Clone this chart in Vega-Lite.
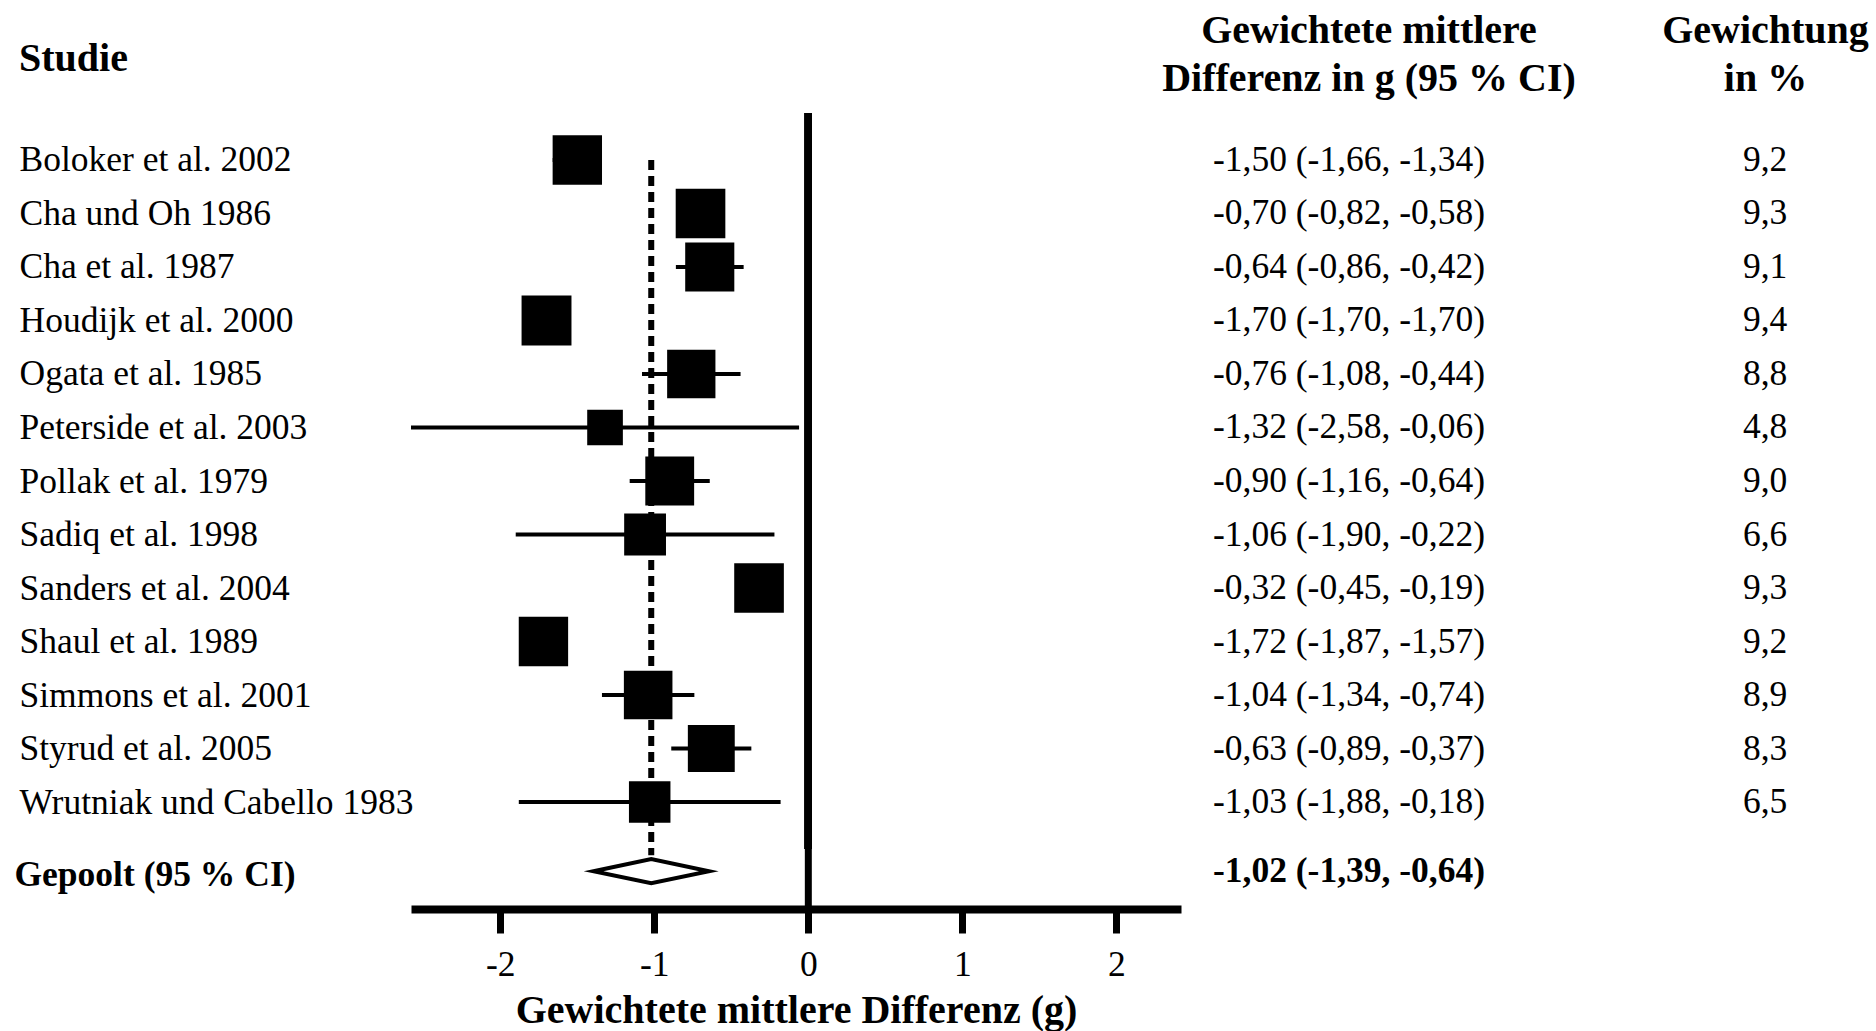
{
  "$schema": "https://vega.github.io/schema/vega-lite/v6.json",
  "background": "white",
  "padding": {"left": 14, "top": 11, "right": 0, "bottom": 0},
  "config": {
    "view": {"stroke": null},
    "locale": {"number": {"decimal": ",", "thousands": ".", "grouping": [3], "currency": ["", " €"], "minus": "-"}},
    "font": "Liberation Serif",
    "title": {"font": "Liberation Serif", "fontSize": 40, "fontWeight": "bold", "color": "black", "lineHeight": 48, "baseline": "bottom"},
    "text": {"font": "Liberation Serif", "fontSize": 35.5, "color": "black"}
  },
  "datasets": {
    "studies": [
      {"study": "Boloker et al. 2002", "est": -1.50, "lo": -1.66, "hi": -1.34, "weight": 9.2},
      {"study": "Cha und Oh 1986", "est": -0.70, "lo": -0.82, "hi": -0.58, "weight": 9.3},
      {"study": "Cha et al. 1987", "est": -0.64, "lo": -0.86, "hi": -0.42, "weight": 9.1},
      {"study": "Houdijk et al. 2000", "est": -1.70, "lo": -1.70, "hi": -1.70, "weight": 9.4},
      {"study": "Ogata et al. 1985", "est": -0.76, "lo": -1.08, "hi": -0.44, "weight": 8.8},
      {"study": "Peterside et al. 2003", "est": -1.32, "lo": -2.58, "hi": -0.06, "weight": 4.8},
      {"study": "Pollak et al. 1979", "est": -0.90, "lo": -1.16, "hi": -0.64, "weight": 9.0},
      {"study": "Sadiq et al. 1998", "est": -1.06, "lo": -1.90, "hi": -0.22, "weight": 6.6},
      {"study": "Sanders et al. 2004", "est": -0.32, "lo": -0.45, "hi": -0.19, "weight": 9.3},
      {"study": "Shaul et al. 1989", "est": -1.72, "lo": -1.87, "hi": -1.57, "weight": 9.2},
      {"study": "Simmons et al. 2001", "est": -1.04, "lo": -1.34, "hi": -0.74, "weight": 8.9},
      {"study": "Styrud  et al. 2005", "est": -0.63, "lo": -0.89, "hi": -0.37, "weight": 8.3},
      {"study": "Wrutniak und Cabello 1983", "est": -1.03, "lo": -1.88, "hi": -0.18, "weight": 6.5}
    ],
    "pooled": [
      {"study": "Gepoolt (95 % CI)", "est": -1.02, "lo": -1.39, "hi": -0.64}
    ]
  },
  "columns": 3,
  "spacing": {"row": 0, "column": 0},
  "bounds": "flush",
  "resolve": {"scale": {"x": "independent", "y": "independent", "size": "independent"}},
  "concat": [
    {
      "width": 770,
      "height": 736,
      "title": {"text": "Studie", "anchor": "start", "frame": "bounds", "offset": 31},
      "data": {"name": "studies"},
      "layer": [
        {
          "mark": {"type": "rule", "strokeWidth": 7, "color": "black"},
          "encoding": {
            "x": {"datum": 0, "type": "quantitative", "scale": {"domain": [-2.58, 2.42], "nice": false, "zero": false}, "axis": null}
          }
        },
        {
          "data": {"name": "pooled"},
          "mark": {"type": "rule", "strokeWidth": 6, "color": "black", "strokeDash": [10, 6]},
          "encoding": {
            "x": {"field": "est", "type": "quantitative", "scale": {"domain": [-2.58, 2.42], "nice": false, "zero": false}, "axis": null},
            "y": {"datum": "Boloker et al. 2002", "type": "nominal"},
            "y2": {"value": "height"}
          }
        },
        {
          "mark": {"type": "rule", "strokeWidth": 4, "color": "black"},
          "encoding": {
            "x": {"field": "lo", "type": "quantitative", "scale": {"domain": [-2.58, 2.42], "nice": false, "zero": false}, "axis": null},
            "x2": {"field": "hi"},
            "y": {"field": "study", "type": "nominal"}
          }
        },
        {
          "mark": {"type": "point", "shape": "square", "filled": true, "color": "black", "opacity": 1, "strokeWidth": 0},
          "encoding": {
            "x": {"field": "est", "type": "quantitative", "scale": {"domain": [-2.58, 2.42], "nice": false, "zero": false}, "axis": null},
            "y": {
              "field": "study", "type": "nominal",
              "scale": {"type": "point", "padding": 0.8785, "domain": ["Boloker et al. 2002", "Cha und Oh 1986", "Cha et al. 1987", "Houdijk et al. 2000", "Ogata et al. 1985", "Peterside et al. 2003", "Pollak et al. 1979", "Sadiq et al. 1998", "Sanders et al. 2004", "Shaul et al. 1989", "Simmons et al. 2001", "Styrud  et al. 2005", "Wrutniak und Cabello 1983"]},
              "axis": {"title": null, "domain": false, "ticks": false, "tickSize": 0, "grid": false, "labelAlign": "left", "labelBaseline": "middle", "labelPadding": 392, "labelFont": "Liberation Serif", "labelFontSize": 35.5, "labelColor": "black", "labelLimit": 0, "labelOverlap": false}
            },
            "size": {"field": "weight", "type": "quantitative", "scale": {"type": "linear", "domain": [0, 10], "range": [0, 2650]}, "legend": null}
          }
        }
      ]
    },
    {
      "width": 336,
      "height": 736,
      "title": {"text": ["Gewichtete mittlere", "Differenz in g (95 % CI)"], "anchor": "middle", "frame": "group", "offset": 14, "dx": 20},
      "data": {"name": "studies"},
      "transform": [
        {"calculate": "format(datum.est, '.2f') + ' (' + format(datum.lo, '.2f') + ', ' + format(datum.hi, '.2f') + ')'", "as": "ci_text"}
      ],
      "mark": {"type": "text", "align": "center", "baseline": "middle"},
      "encoding": {
        "y": {
          "field": "study", "type": "nominal",
          "scale": {"type": "point", "padding": 0.8785, "domain": ["Boloker et al. 2002", "Cha und Oh 1986", "Cha et al. 1987", "Houdijk et al. 2000", "Ogata et al. 1985", "Peterside et al. 2003", "Pollak et al. 1979", "Sadiq et al. 1998", "Sanders et al. 2004", "Shaul et al. 1989", "Simmons et al. 2001", "Styrud  et al. 2005", "Wrutniak und Cabello 1983"]},
          "axis": null
        },
        "text": {"field": "ci_text", "type": "nominal"}
      }
    },
    {
      "width": 359,
      "height": 736,
      "title": {"text": ["Gewichtung", "in %"], "anchor": "middle", "frame": "group", "offset": 14, "dx": 69},
      "data": {"name": "studies"},
      "mark": {"type": "text", "align": "center", "baseline": "middle"},
      "encoding": {
        "x": {"datum": 0.691, "type": "quantitative", "scale": {"domain": [0, 1], "nice": false, "zero": false}, "axis": null},
        "y": {
          "field": "study", "type": "nominal",
          "scale": {"type": "point", "padding": 0.8785, "domain": ["Boloker et al. 2002", "Cha und Oh 1986", "Cha et al. 1987", "Houdijk et al. 2000", "Ogata et al. 1985", "Peterside et al. 2003", "Pollak et al. 1979", "Sadiq et al. 1998", "Sanders et al. 2004", "Shaul et al. 1989", "Simmons et al. 2001", "Styrud  et al. 2005", "Wrutniak und Cabello 1983"]},
          "axis": null
        },
        "text": {"field": "weight", "type": "quantitative", "format": ".1f"}
      }
    },
    {
      "width": 770,
      "height": 60,
      "data": {"name": "pooled"},
      "transform": [
        {"calculate": "datum.hi - datum.lo", "as": "ci_width"}
      ],
      "layer": [
        {
          "mark": {"type": "rule", "strokeWidth": 7, "color": "black"},
          "encoding": {
            "x": {
              "datum": 0, "type": "quantitative",
              "scale": {"domain": [-2.58, 2.42], "nice": false, "zero": false},
              "axis": {"values": [-2, -1, 0, 1, 2], "labelExpr": "datum.value + ''", "domain": true, "domainColor": "black", "domainWidth": 8, "ticks": true, "tickColor": "black", "tickWidth": 7, "tickSize": 24, "grid": false, "labelFont": "Liberation Serif", "labelFontSize": 35.5, "labelColor": "black", "labelPadding": 14, "labelFlush": false, "title": "Gewichtete mittlere Differenz (g)", "titleFont": "Liberation Serif", "titleFontSize": 40, "titleFontWeight": "bold", "titleColor": "black", "titlePadding": 8}
            }
          }
        },
        {
          "mark": {"type": "rule", "strokeWidth": 6, "color": "black", "strokeDash": [10, 6]},
          "encoding": {
            "x": {"field": "est", "type": "quantitative"},
            "y": {"field": "study", "type": "nominal"},
            "y2": {"value": 0}
          }
        },
        {
          "mark": {"type": "point", "shape": "M-1,0L0,-0.21L1,0L0,0.21Z", "filled": true, "fill": "white", "stroke": "black", "strokeWidth": 4, "strokeJoin": "miter", "strokeMiterLimit": 10, "opacity": 1},
          "encoding": {
            "x": {"field": "est", "type": "quantitative"},
            "y": {
              "field": "study", "type": "nominal",
              "scale": {"type": "point", "padding": 0, "align": 0.37, "domain": ["Gepoolt (95 % CI)"]},
              "axis": {"title": null, "domain": false, "ticks": false, "tickSize": 0, "grid": false, "labelAlign": "left", "labelBaseline": "middle", "labelPadding": 397, "labelOffset": 3, "labelFont": "Liberation Serif", "labelFontSize": 35.5, "labelFontWeight": "bold", "labelColor": "black", "labelLimit": 0}
            },
            "size": {"field": "ci_width", "type": "quantitative", "scale": {"type": "pow", "exponent": 2, "domain": [0, 1], "range": [0, 23716]}, "legend": null}
          }
        }
      ]
    },
    {
      "width": 336,
      "height": 60,
      "data": {"name": "pooled"},
      "transform": [
        {"calculate": "format(datum.est, '.2f') + ' (' + format(datum.lo, '.2f') + ', ' + format(datum.hi, '.2f') + ')'", "as": "ci_text"}
      ],
      "mark": {"type": "text", "align": "center", "baseline": "middle", "fontWeight": "bold"},
      "encoding": {
        "y": {
          "field": "study", "type": "nominal",
          "scale": {"type": "point", "padding": 0, "align": 0.37, "domain": ["Gepoolt (95 % CI)"]},
          "axis": null
        },
        "text": {"field": "ci_text", "type": "nominal"}
      }
    }
  ]
}
